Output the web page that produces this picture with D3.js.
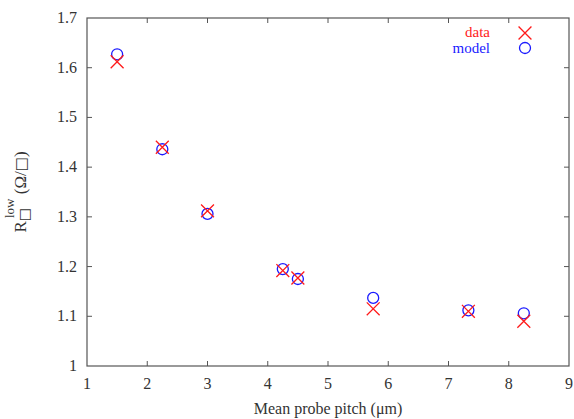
<!DOCTYPE html>
<html>
<head>
<meta charset="utf-8">
<script src="https://cdn.jsdelivr.net/npm/d3@7"></script>
<style>
  body { margin: 0; background: #fff; }
  #chart { width: 574px; height: 419px; }
</style>
</head>
<body>
<div id="chart"></div>
<script>
// values
const pitch = [1.5, 2.25, 3.0, 4.25, 4.5, 5.75, 7.33, 8.25];
const measured = [1.612, 1.44, 1.312, 1.192, 1.177, 1.115, 1.11, 1.09];
const modelled = [1.627, 1.436, 1.306, 1.195, 1.175, 1.137, 1.112, 1.106];
const xTicks = [1, 2, 3, 4, 5, 6, 7, 8, 9];
const yTicks = [1, 1.1, 1.2, 1.3, 1.4, 1.5, 1.6, 1.7];

function sheet_resistance() {
    const W = 574, H = 419;
    const m = {left: 87, right: 5, top: 18, bottom: 53};
    const serif = "'Liberation Serif', 'Times New Roman', serif";

    const svg = d3.select("#chart").append("svg")
        .attr("width", W)
        .attr("height", H)
        .attr("font-family", serif);

    const x = d3.scaleLinear().domain([1, 9]).range([m.left, W - m.right]);
    const y = d3.scaleLinear().domain([1, 1.7]).range([H - m.bottom, m.top]);

    const axisColor = "#555";
    const textColor = "#333";

    // frame
    svg.append("rect")
        .attr("x", x(1)).attr("y", y(1.7))
        .attr("width", x(9) - x(1)).attr("height", y(1) - y(1.7))
        .attr("fill", "none").attr("stroke", axisColor).attr("stroke-width", 1.2);

    const tickLen = 5;
    const fmtY = d => d === 1 ? "1" : d3.format(".1f")(d);

    // ticks on all four sides, pointing inward
    const xInner = xTicks.slice(1, -1);
    svg.selectAll("line.xb").data(xInner).join("line")
        .attr("x1", d => x(d)).attr("x2", d => x(d))
        .attr("y1", y(1)).attr("y2", y(1) - tickLen)
        .attr("stroke", axisColor);
    svg.selectAll("line.xt").data(xInner).join("line")
        .attr("x1", d => x(d)).attr("x2", d => x(d))
        .attr("y1", y(1.7)).attr("y2", y(1.7) + tickLen)
        .attr("stroke", axisColor);
    const yInner = yTicks.slice(1, -1);
    svg.selectAll("line.yl").data(yInner).join("line")
        .attr("x1", x(1)).attr("x2", x(1) + tickLen)
        .attr("y1", d => y(d)).attr("y2", d => y(d))
        .attr("stroke", axisColor);
    svg.selectAll("line.yr").data(yInner).join("line")
        .attr("x1", x(9)).attr("x2", x(9) - tickLen)
        .attr("y1", d => y(d)).attr("y2", d => y(d))
        .attr("stroke", axisColor);

    svg.selectAll("text.xt").data(xTicks).join("text")
        .attr("x", d => x(d)).attr("y", y(1) + 23)
        .attr("text-anchor", "middle")
        .attr("font-family", serif)
        .attr("font-size", 16).attr("fill", textColor)
        .text(d => d);
    svg.selectAll("text.yt").data(yTicks).join("text")
        .attr("x", x(1) - 10).attr("y", d => y(d) + 5)
        .attr("text-anchor", "end")
        .attr("font-family", serif)
        .attr("font-size", 16).attr("fill", textColor)
        .text(fmtY);

    svg.append("text")
        .attr("x", (x(1) + x(9)) / 2).attr("y", H - 5)
        .attr("text-anchor", "middle")
        .attr("font-size", 16).attr("fill", textColor)
        .text("Mean probe pitch (\u03bcm)");

    // y label: R with square subscript and "low" superscript
    const yl = svg.append("text")
        .attr("transform", `translate(26, 192) rotate(-90)`)
        .attr("text-anchor", "middle")
        .attr("font-size", 17).attr("fill", textColor);
    yl.append("tspan").text("R");
    yl.append("tspan").attr("dy", 3).attr("font-size", 14)
        .attr("font-family", "DejaVu Sans").text("\u25a1");
    yl.append("tspan").attr("dy", -15).attr("dx", -10).attr("font-size", 13).text("low");
    yl.append("tspan").attr("dy", 12).text(" (\u03a9/");
    yl.append("tspan").attr("font-family", "DejaVu Sans").attr("font-size", 15).text("\u25a1");
    yl.append("tspan").text(")");

    const red = "#ff1a1a", blue = "#1a1aff";
    const cross = d3.symbol().type(d3.symbolTimes).size(110);

    const pts = pitch.map((p, i) => ({p, d: measured[i], m: modelled[i]}));

    svg.selectAll("circle.model").data(pts).join("circle")
        .attr("cx", d => x(d.p)).attr("cy", d => y(d.m))
        .attr("r", 5.5)
        .attr("fill", "none").attr("stroke", blue).attr("stroke-width", 1.3);

    svg.selectAll("path.data").data(pts).join("path")
        .attr("transform", d => `translate(${x(d.p)},${y(d.d)})`)
        .attr("d", cross)
        .attr("fill", "none").attr("stroke", red).attr("stroke-width", 1.3);

    // legend
    const lx = 525;
    svg.append("text").attr("x", 490).attr("y", 37)
        .attr("text-anchor", "end").attr("font-size", 15).attr("fill", red).text("data");
    svg.append("path").attr("transform", `translate(${lx},33)`).attr("d", cross)
        .attr("fill", "none").attr("stroke", red).attr("stroke-width", 1.3);
    svg.append("text").attr("x", 490).attr("y", 53)
        .attr("text-anchor", "end").attr("font-size", 15).attr("fill", blue).text("model");
    svg.append("circle").attr("cx", lx).attr("cy", 48).attr("r", 5.5)
        .attr("fill", "none").attr("stroke", blue).attr("stroke-width", 1.3);
}

sheet_resistance();
</script>
</body>
</html>
